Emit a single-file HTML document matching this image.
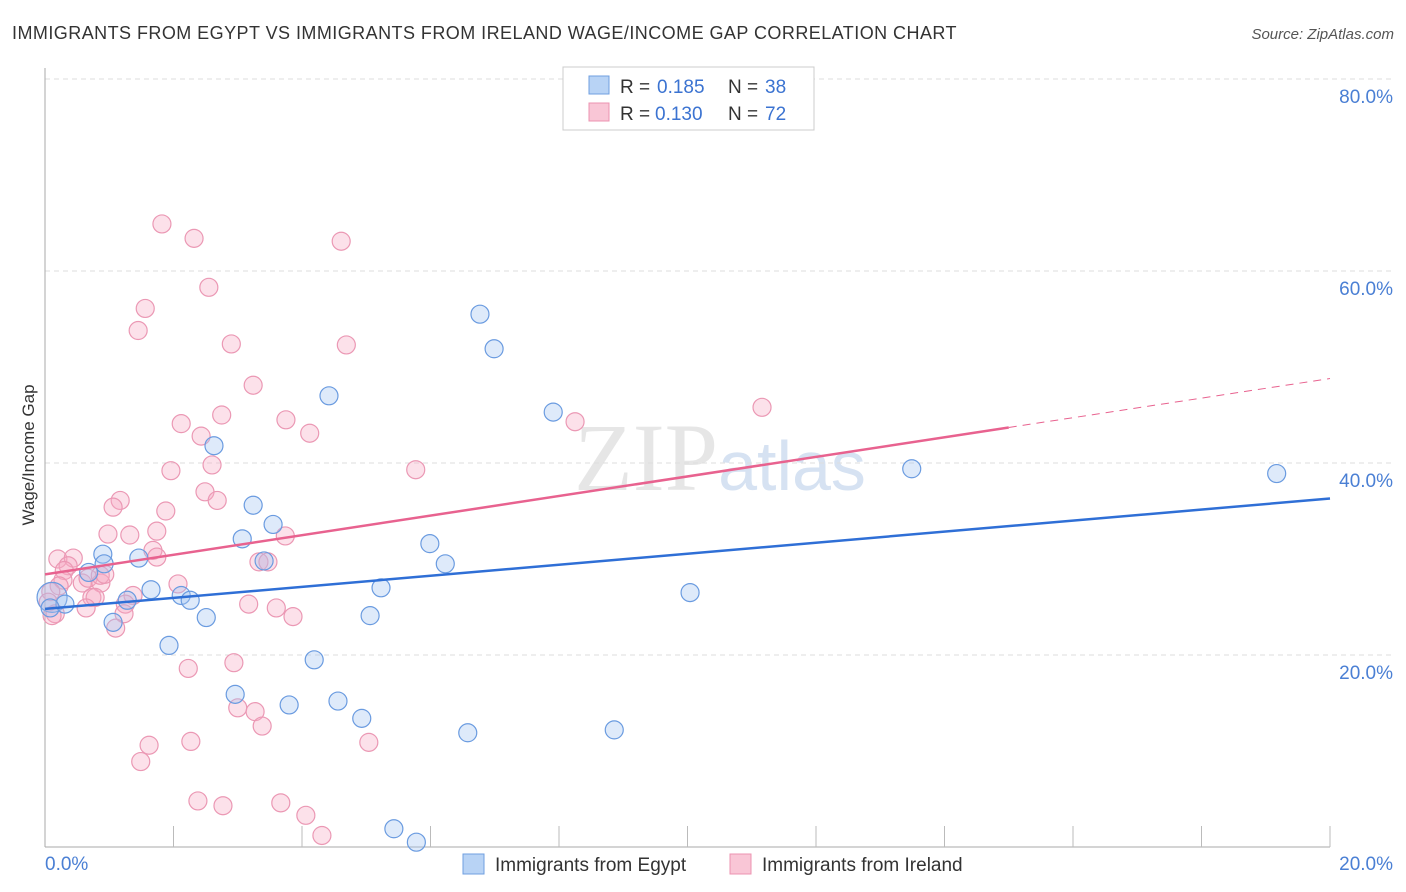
<!DOCTYPE html>
<html><head><meta charset="utf-8"><style>
body{margin:0;background:#fff;font-family:"Liberation Sans",sans-serif;}
svg{display:block}
</style></head><body>
<svg id="c" width="1406" height="892">
<text x="12" y="39" font-size="18" fill="#333" letter-spacing="0.45">IMMIGRANTS FROM EGYPT VS IMMIGRANTS FROM IRELAND WAGE/INCOME GAP CORRELATION CHART</text>
<text x="1394" y="39" font-size="15" fill="#555" font-style="italic" text-anchor="end">Source: ZipAtlas.com</text>
<text x="34" y="455" font-size="17" fill="#333" text-anchor="middle" transform="rotate(-90 34 455)">Wage/Income Gap</text>
<text x="720" y="490" font-size="96" fill="#e6e6e6" text-anchor="middle" font-family="Liberation Serif,serif">ZIP<tspan fill="#d6e2f2" font-family="Liberation Sans,sans-serif" font-size="70">atlas</tspan></text>
<g id="grid"></g><g id="marks"></g>
<g>
<rect x="563" y="67" width="251" height="63" fill="#fff" stroke="#ccc"/>
<rect x="589" y="76" width="20" height="18" fill="#b8d3f5" stroke="#6f9fe0"/>
<rect x="589" y="103" width="20" height="18" fill="#f9c6d6" stroke="#ec93b0"/>
<text y="93" font-size="19" fill="#333"><tspan x="620">R =</tspan><tspan x="657" fill="#3b73d1">0.185</tspan><tspan x="728">N =</tspan><tspan x="765" fill="#3b73d1">38</tspan></text>
<text y="120" font-size="19" fill="#333"><tspan x="620">R =</tspan><tspan x="655" fill="#3b73d1">0.130</tspan><tspan x="728">N =</tspan><tspan x="765" fill="#3b73d1">72</tspan></text>
</g>
<g>
<rect x="463" y="854" width="21" height="20" fill="#b8d3f5" stroke="#6f9fe0"/>
<text x="495" y="871" font-size="19" fill="#333">Immigrants from Egypt</text>
<rect x="730" y="854" width="21" height="20" fill="#f9c6d6" stroke="#ec93b0"/>
<text x="762" y="871" font-size="19" fill="#333">Immigrants from Ireland</text>
</g>
</svg>
<script>
const yTicks=[20,40,60,80];
const yTickLabels=["20.0%","40.0%","60.0%","80.0%"];
const xTickLabels=["0.0%","20.0%"];
const egyptX=[0.11,0.31,0.08,0.90,0.68,0.92,1.06,1.28,1.46,1.65,1.93,2.12,2.26,2.51,2.63,2.96,3.07,3.24,3.41,3.55,3.80,4.19,4.42,4.56,4.93,5.06,5.23,5.43,5.78,5.99,6.23,6.58,6.77,6.99,7.91,8.86,10.04,13.49,19.17];
const egyptY=[26.0,25.3,24.9,30.5,28.6,29.5,23.4,25.7,30.1,26.8,21.0,26.2,25.7,23.9,41.8,15.9,32.1,35.6,29.8,33.6,14.8,19.5,47.0,15.2,13.4,24.1,27.0,1.9,0.5,31.6,29.5,11.9,55.5,51.9,45.3,12.2,26.5,39.4,38.9];
const irelandX=[1.82,2.32,4.61,2.55,1.56,1.45,2.90,4.69,3.24,2.12,2.75,3.75,4.12,2.43,2.60,1.96,5.77,8.25,11.16,2.49,2.68,1.17,1.06,1.88,0.98,1.32,1.74,1.68,1.74,0.20,0.44,0.36,0.30,0.28,0.58,0.67,0.87,0.86,0.93,0.73,0.78,1.37,1.25,0.64,1.23,1.10,2.07,0.22,0.09,0.05,0.16,0.11,3.33,3.47,3.74,3.17,3.60,3.86,2.23,2.94,3.00,3.27,3.38,1.62,2.27,1.49,5.04,2.38,2.77,3.67,4.06,4.31];
const irelandY=[64.9,63.4,63.1,58.3,56.1,53.8,52.4,52.3,48.1,44.1,45.0,44.5,43.1,42.8,39.8,39.2,39.3,44.3,45.8,37.0,36.1,36.1,35.4,35.0,32.6,32.5,32.9,30.9,30.2,30.0,30.1,29.3,28.8,27.8,27.5,28.0,27.5,28.3,28.4,26.0,26.0,26.2,25.3,24.9,24.3,22.8,27.4,27.2,26.6,25.5,24.3,24.1,29.7,29.7,32.4,25.3,24.9,24.0,18.6,19.2,14.5,14.1,12.6,10.6,11.0,8.9,10.9,4.8,4.3,4.6,3.3,1.2];
const egyptFit=[24.8,36.3];
const irelandFit=[28.4,43.7,48.8];
const irelandSolidEnd=15.0;
const X=v=>45+v/20*1285, Y=v=>847-v*9.6;
const NS="http://www.w3.org/2000/svg";
const grid=document.getElementById('grid'), marks=document.getElementById('marks');
function mk(t,a,p){const e=document.createElementNS(NS,t);for(const k in a)e.setAttribute(k,a[k]);p.appendChild(e);return e;}
yTicks.forEach((v,i)=>{
 const l=mk('line',{x1:45,x2:1393,y1:Y(v),y2:Y(v),stroke:'#ddd','stroke-dasharray':'5,4'},grid);
 
 
 const t=mk('text',{x:1393,y:Y(v)+24,'font-size':19,fill:'#4a7fd4','text-anchor':'end'},grid);t.textContent=yTickLabels[i];
 
 
});
mk('line',{x1:45,x2:45,y1:68,y2:847,stroke:'#aaa'},grid);
mk('line',{x1:45,x2:1330,y1:847,y2:847,stroke:'#aaa'},grid);
for(let i=1;i<=10;i++){mk('line',{x1:X(i*2),x2:X(i*2),y1:826,y2:847,stroke:'#bbb'},grid);}
xTickLabels.forEach((s,i)=>{const t=mk('text',{x:i?1393:45,y:870,'font-size':19,fill:'#4a7fd4','text-anchor':i?'end':'start'},grid);t.textContent=s;
 
 });
irelandX.forEach((x,i)=>{const c=mk('circle',{cx:X(x),cy:Y(irelandY[i]),r:9,fill:'rgba(246,170,195,0.35)',stroke:'#eb98b4','stroke-width':1.2},marks);
 
 });
egyptX.forEach((x,i)=>{const c=mk('circle',{cx:X(x),cy:Y(egyptY[i]),r:i==0?15:9,fill:'rgba(160,195,240,0.35)',stroke:'#6a9be0','stroke-width':1.2},marks);
 
 });
const pf=x=>irelandFit[0]+(irelandFit[2]-irelandFit[0])*x/20;
let l1=mk('line',{x1:X(0),y1:Y(irelandFit[0]),x2:X(irelandSolidEnd),y2:Y(pf(irelandSolidEnd)),stroke:'#e8628f','stroke-width':2.5},marks);


let l2=mk('line',{x1:X(irelandSolidEnd),y1:Y(pf(irelandSolidEnd)),x2:X(20),y2:Y(irelandFit[2]),stroke:'#e8628f','stroke-width':1,'stroke-dasharray':'8,6'},marks);


let l3=mk('line',{x1:X(0),y1:Y(egyptFit[0]),x2:X(20),y2:Y(egyptFit[1]),stroke:'#2f6fd6','stroke-width':2.5},marks);


</script>
</body></html>
